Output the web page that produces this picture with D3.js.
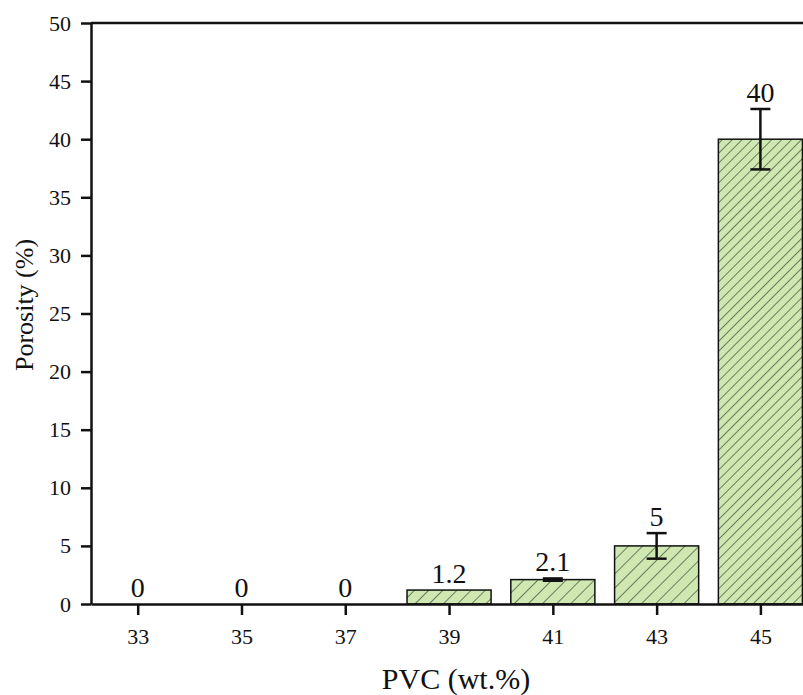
<!DOCTYPE html>
<html lang="en">
<head>
    <meta charset="UTF-8">
    <title>Porosity vs PVC</title>
    <script type="text/javascript" src="https://cdn.jsdelivr.net/npm/d3@7"></script>
    <style>
        body { margin: 0; background: #fff; }
        text { font-family: "Liberation Serif", "Times New Roman", serif; fill: #111; }
    </style>
</head>
<body>
    <script type="text/javascript">

        //data
        var pvc = [33, 35, 37, 39, 41, 43, 45];
        var porosity = [0, 0, 0, 1.2, 2.1, 5, 40];
        var errors = [0, 0, 0, 0, 0.1, 1.1, 2.6];
        var valueLabels = ["0", "0", "0", "1.2", "2.1", "5", "40"];
        var yTicks = [0, 5, 10, 15, 20, 25, 30, 35, 40, 45, 50];
        var xTicks = [33, 35, 37, 39, 41, 43, 45];

        //Width and height
        var w = 803;
        var h = 695;
        var plotLeft = 91, plotTop = 23, plotBottom = 604;
        var barHalf = 0.81;

        var xScale = d3.scaleLinear()
                        .domain([32.1, 46.9])
                        .range([plotLeft, 859]);

        var yScale = d3.scaleLinear()
                        .domain([0, 50])
                        .range([plotBottom, plotTop]);

        var svg = d3.select("body")
                        .append("svg")
                        .attr("width", w)
                        .attr("height", h);

        //hatch patterns (tall bar is drawn denser)
        var defs = svg.append("defs");
        [["hatch", 10], ["hatchDense", 7]].forEach(function(p) {
            var pat = defs.append("pattern")
                .attr("id", p[0])
                .attr("patternUnits", "userSpaceOnUse")
                .attr("width", p[1])
                .attr("height", p[1])
                .attr("patternTransform", "rotate(45)");
            pat.append("rect")
                .attr("width", p[1]).attr("height", p[1])
                .attr("fill", "#cfe8b2");
            pat.append("line")
                .attr("x1", 0).attr("y1", 0)
                .attr("x2", 0).attr("y2", p[1])
                .attr("stroke", "#27311f")
                .attr("stroke-width", 1.2);
        });

        var data = pvc.map(function(d, i) {
            return {x: d, y: porosity[i], err: errors[i], label: valueLabels[i]};
        });

        //bars
        svg.selectAll("rect.bar")
            .data(data.filter(function(d) { return d.y > 0; }))
            .enter()
            .append("rect")
            .attr("class", "bar")
            .attr("x", function(d) { return xScale(d.x - barHalf); })
            .attr("width", function(d) { return xScale(d.x + barHalf) - xScale(d.x - barHalf); })
            .attr("y", function(d) { return yScale(d.y); })
            .attr("height", function(d) { return yScale(0) - yScale(d.y); })
            .attr("fill", function(d) { return d.y > 20 ? "url(#hatchDense)" : "url(#hatch)"; })
            .attr("stroke", "#111")
            .attr("stroke-width", 1.5);

        //error bars
        var eb = svg.selectAll("g.err")
            .data(data.filter(function(d) { return d.err > 0; }))
            .enter()
            .append("g")
            .attr("class", "err")
            .attr("stroke", "#111")
            .attr("stroke-width", 2.5);

        eb.append("line")
            .attr("x1", function(d) { return xScale(d.x); })
            .attr("x2", function(d) { return xScale(d.x); })
            .attr("y1", function(d) { return yScale(d.y + d.err); })
            .attr("y2", function(d) { return yScale(d.y - d.err); });

        [1, -1].forEach(function(s) {
            eb.append("line")
                .attr("x1", function(d) { return xScale(d.x) - 10; })
                .attr("x2", function(d) { return xScale(d.x) + 10; })
                .attr("y1", function(d) { return yScale(d.y + s * d.err); })
                .attr("y2", function(d) { return yScale(d.y + s * d.err); });
        });

        //value labels
        svg.selectAll("text.val")
            .data(data)
            .enter()
            .append("text")
            .attr("class", "val")
            .attr("x", function(d) { return xScale(d.x); })
            .attr("y", function(d) { return yScale(d.y + d.err) - 7; })
            .attr("text-anchor", "middle")
            .style("font-size", "28px")
            .text(function(d) { return d.label; });

        //axes
        var yAxis = d3.axisLeft(yScale)
                        .tickValues(yTicks)
                        .tickSize(10)
                        .tickSizeOuter(0)
                        .tickPadding(10);

        var xAxis = d3.axisBottom(xScale)
                        .tickValues(xTicks)
                        .tickSize(11)
                        .tickSizeOuter(0)
                        .tickPadding(13);

        var gy = svg.append("g")
            .attr("transform", "translate(" + plotLeft + ",0)")
            .call(yAxis);

        var gx = svg.append("g")
            .attr("transform", "translate(0," + plotBottom + ")")
            .call(xAxis);

        [gx, gy].forEach(function(g) {
            g.selectAll("path, line")
                .attr("stroke", "#111")
                .attr("stroke-width", 2.5);
            g.selectAll("text")
                .style("font-size", "22px")
                .style("font-family", "'Liberation Serif', 'Times New Roman', serif")
                .attr("fill", "#111");
        });

        //top frame line
        svg.append("line")
            .attr("x1", plotLeft)
            .attr("x2", xScale.range()[1])
            .attr("y1", yScale(50))
            .attr("y2", yScale(50))
            .attr("stroke", "#111")
            .attr("stroke-width", 2.5);

        //axis titles
        svg.append("text")
            .attr("x", 456)
            .attr("y", 689)
            .attr("text-anchor", "middle")
            .style("font-size", "30px")
            .text("PVC (wt.%)");

        svg.append("text")
            .attr("transform", "translate(33,305) rotate(-90)")
            .attr("text-anchor", "middle")
            .style("font-size", "26px")
            .text("Porosity (%)");

    </script>
</body>
</html>
